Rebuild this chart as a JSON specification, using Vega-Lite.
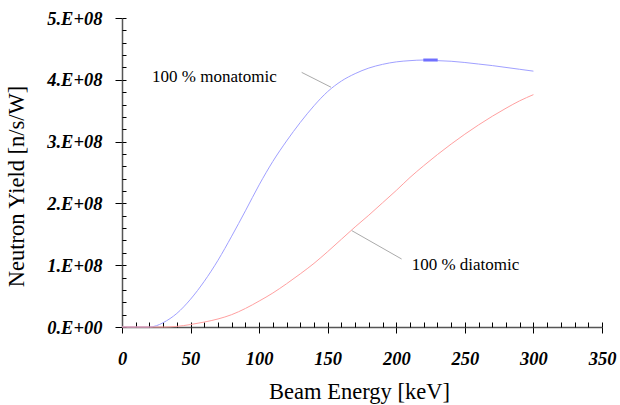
{
  "$schema": "https://vega.github.io/schema/vega-lite/v6.json",
  "width": 480,
  "height": 309,
  "autosize": {"type": "none"},
  "padding": {"left": 122, "top": 18, "right": 18, "bottom": 78},
  "background": "white",
  "config": {"view": {"stroke": null}, "font": "Liberation Serif, Times New Roman, serif"},
  "datasets": {
    "curves": [
      {"series": "monatomic", "energy": 0, "yield": 0},
      {"series": "monatomic", "energy": 10, "yield": 0},
      {"series": "monatomic", "energy": 20, "yield": 0},
      {"series": "monatomic", "energy": 25, "yield": 2000000},
      {"series": "monatomic", "energy": 30, "yield": 7000000},
      {"series": "monatomic", "energy": 40, "yield": 22000000},
      {"series": "monatomic", "energy": 50, "yield": 45000000},
      {"series": "monatomic", "energy": 60, "yield": 74000000},
      {"series": "monatomic", "energy": 70, "yield": 108000000},
      {"series": "monatomic", "energy": 80, "yield": 147000000},
      {"series": "monatomic", "energy": 90, "yield": 188000000},
      {"series": "monatomic", "energy": 100, "yield": 230000000},
      {"series": "monatomic", "energy": 110, "yield": 268000000},
      {"series": "monatomic", "energy": 120, "yield": 301000000},
      {"series": "monatomic", "energy": 130, "yield": 331000000},
      {"series": "monatomic", "energy": 140, "yield": 358000000},
      {"series": "monatomic", "energy": 150, "yield": 381000000},
      {"series": "monatomic", "energy": 160, "yield": 398000000},
      {"series": "monatomic", "energy": 170, "yield": 410000000},
      {"series": "monatomic", "energy": 180, "yield": 419000000},
      {"series": "monatomic", "energy": 190, "yield": 425000000},
      {"series": "monatomic", "energy": 200, "yield": 429000000},
      {"series": "monatomic", "energy": 210, "yield": 431000000},
      {"series": "monatomic", "energy": 220, "yield": 432000000},
      {"series": "monatomic", "energy": 230, "yield": 431000000},
      {"series": "monatomic", "energy": 240, "yield": 430000000},
      {"series": "monatomic", "energy": 250, "yield": 428000000},
      {"series": "monatomic", "energy": 260, "yield": 425500000},
      {"series": "monatomic", "energy": 270, "yield": 423000000},
      {"series": "monatomic", "energy": 280, "yield": 420000000},
      {"series": "monatomic", "energy": 290, "yield": 417000000},
      {"series": "monatomic", "energy": 300, "yield": 414000000},
      {"series": "diatomic", "energy": 0, "yield": 0},
      {"series": "diatomic", "energy": 10, "yield": 0},
      {"series": "diatomic", "energy": 20, "yield": 0},
      {"series": "diatomic", "energy": 30, "yield": 0},
      {"series": "diatomic", "energy": 40, "yield": 1000000},
      {"series": "diatomic", "energy": 50, "yield": 4000000},
      {"series": "diatomic", "energy": 60, "yield": 8000000},
      {"series": "diatomic", "energy": 70, "yield": 13000000},
      {"series": "diatomic", "energy": 80, "yield": 20000000},
      {"series": "diatomic", "energy": 90, "yield": 30000000},
      {"series": "diatomic", "energy": 100, "yield": 42000000},
      {"series": "diatomic", "energy": 110, "yield": 55000000},
      {"series": "diatomic", "energy": 120, "yield": 70000000},
      {"series": "diatomic", "energy": 130, "yield": 86000000},
      {"series": "diatomic", "energy": 140, "yield": 103000000},
      {"series": "diatomic", "energy": 150, "yield": 122000000},
      {"series": "diatomic", "energy": 160, "yield": 142000000},
      {"series": "diatomic", "energy": 170, "yield": 162000000},
      {"series": "diatomic", "energy": 180, "yield": 181000000},
      {"series": "diatomic", "energy": 190, "yield": 201000000},
      {"series": "diatomic", "energy": 200, "yield": 221000000},
      {"series": "diatomic", "energy": 210, "yield": 242000000},
      {"series": "diatomic", "energy": 220, "yield": 261000000},
      {"series": "diatomic", "energy": 230, "yield": 279000000},
      {"series": "diatomic", "energy": 240, "yield": 296000000},
      {"series": "diatomic", "energy": 250, "yield": 312000000},
      {"series": "diatomic", "energy": 260, "yield": 327000000},
      {"series": "diatomic", "energy": 270, "yield": 341000000},
      {"series": "diatomic", "energy": 280, "yield": 354000000},
      {"series": "diatomic", "energy": 290, "yield": 366000000},
      {"series": "diatomic", "energy": 300, "yield": 376000000}
    ],
    "peak": [
      {"energy": 219.7, "yield": 432000000},
      {"energy": 230.2, "yield": 432000000}
    ],
    "leaders": [
      {"id": "mono", "energy": 131.0, "yield": 412000000},
      {"id": "mono", "energy": 152.4, "yield": 388000000},
      {"id": "di", "energy": 167.5, "yield": 156000000},
      {"id": "di", "energy": 203.9, "yield": 110000000}
    ],
    "notes": [
      {"label": "100 % monatomic", "energy": 21.9, "yield": 405000000},
      {"label": "100 % diatomic", "energy": 211.2, "yield": 101000000}
    ]
  },
  "resolve": {"axis": {"x": "independent", "y": "independent"}},
  "layer": [
    {
      "data": {"name": "curves"},
      "mark": {"type": "line", "strokeWidth": 1, "interpolate": "monotone"},
      "encoding": {
        "x": {
          "field": "energy", "type": "quantitative",
          "scale": {"domain": [0, 350], "nice": false, "zero": false},
          "axis": {
            "orient": "bottom",
            "values": [0, 50, 100, 150, 200, 250, 300, 350],
            "tickSize": 6, "tickColor": "#000", "tickWidth": 1,
            "domainColor": "#555", "domainWidth": 1.5,
            "grid": false,
            "labelFont": "Liberation Serif, Times New Roman, serif", "labelFontStyle": "italic", "labelFontWeight": "bold",
            "labelFontSize": 18.5, "labelColor": "#000", "labelPadding": 16,
            "labelFlush": false, "labelOverlap": false,
            "title": "Beam Energy [keV]",
            "titleFont": "Liberation Serif, Times New Roman, serif", "titleFontSize": 22.5, "titleFontWeight": "normal",
            "titleColor": "#000", "titleBaseline": "alphabetic", "titleY": 71, "titleX": 237
          }
        },
        "y": {
          "field": "yield", "type": "quantitative",
          "scale": {"domain": [0, 500000000], "nice": false},
          "axis": {
            "orient": "left",
            "values": [0, 100000000, 200000000, 300000000, 400000000, 500000000],
            "labelExpr": "(datum.value / 100000000) + '.E+0' + (datum.value == 0 ? '0' : '8')",
            "tickSize": 7, "tickColor": "#000", "tickWidth": 1,
            "domainColor": "#555", "domainWidth": 1.5,
            "grid": false,
            "labelFont": "Liberation Serif, Times New Roman, serif", "labelFontStyle": "italic", "labelFontWeight": "bold",
            "labelFontSize": 18.5, "labelColor": "#000", "labelPadding": 13,
            "labelFlush": false, "labelOverlap": false,
            "title": "Neutron Yield [n/s/W]",
            "titleFont": "Liberation Serif, Times New Roman, serif", "titleFontSize": 22.5, "titleFontWeight": "normal",
            "titleColor": "#000", "titleAngle": 270, "titleBaseline": "alphabetic",
            "titleX": -99, "titleY": 168
          }
        },
        "color": {
          "field": "series", "type": "nominal",
          "scale": {"domain": ["monatomic", "diatomic"], "range": ["#a0a0ff", "#ffa0a0"]},
          "legend": null
        }
      }
    },
    {
      "data": {"name": "curves"},
      "mark": {"type": "point", "opacity": 0},
      "encoding": {
        "x": {
          "field": "energy", "type": "quantitative",
          "axis": {
            "orient": "top", "offset": -309,
            "values": [0,10,20,30,40,50,60,70,80,90,100,110,120,130,140,150,160,170,180,190,200,210,220,230,240,250,260,270,280,290,300,310,320,330,340,350],
            "tickSize": 5, "tickColor": "#000", "tickWidth": 1,
            "domain": false, "labels": false, "grid": false, "title": null
          }
        },
        "y": {
          "field": "yield", "type": "quantitative",
          "axis": {
            "orient": "right", "offset": -480,
            "values": [0,20000000,40000000,60000000,80000000,100000000,120000000,140000000,160000000,180000000,200000000,220000000,240000000,260000000,280000000,300000000,320000000,340000000,360000000,380000000,400000000,420000000,440000000,460000000,480000000,500000000],
            "tickSize": 4, "tickColor": "#000", "tickWidth": 1,
            "domain": false, "labels": false, "grid": false, "title": null
          }
        }
      }
    },
    {
      "data": {"name": "peak"},
      "mark": {"type": "line", "strokeWidth": 3, "color": "#7070ff"},
      "encoding": {
        "x": {"field": "energy", "type": "quantitative", "axis": null},
        "y": {"field": "yield", "type": "quantitative", "axis": null}
      }
    },
    {
      "data": {"name": "leaders"},
      "mark": {"type": "line", "strokeWidth": 1, "color": "#aaaaaa"},
      "encoding": {
        "x": {"field": "energy", "type": "quantitative", "axis": null},
        "y": {"field": "yield", "type": "quantitative", "axis": null},
        "detail": {"field": "id"}
      }
    },
    {
      "data": {"name": "notes"},
      "mark": {"type": "text", "align": "left", "baseline": "middle", "font": "Liberation Serif, Times New Roman, serif", "fontSize": 17, "color": "#000"},
      "encoding": {
        "x": {"field": "energy", "type": "quantitative", "axis": null},
        "y": {"field": "yield", "type": "quantitative", "axis": null},
        "text": {"field": "label"}
      }
    }
  ]
}
